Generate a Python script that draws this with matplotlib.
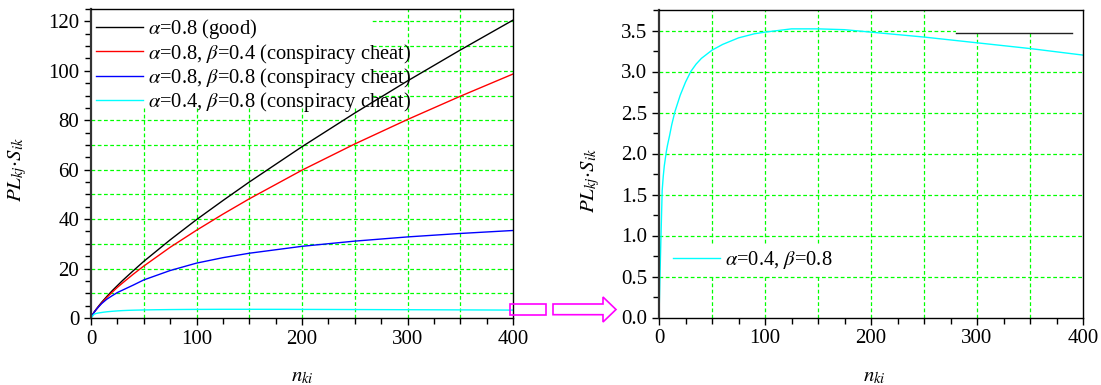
import matplotlib
matplotlib.use('Agg')
import matplotlib.pyplot as plt
from matplotlib.ticker import MultipleLocator, FormatStrFormatter
from matplotlib.patches import Polygon, Rectangle
from matplotlib.lines import Line2D

plt.rcParams['font.family'] = ['Liberation Serif', 'DejaVu Serif']
plt.rcParams['mathtext.fontset'] = 'stix'

# n_ki sample points
n_ki = [0, 1, 2, 3, 4, 5, 7, 10, 15, 20, 25, 30, 40, 50, 75, 100,
        125, 150, 200, 250, 300, 350, 400]

good_a08 = [0, 1.0, 1.7, 2.4, 3.0, 3.6, 4.7, 6.3, 8.7, 11.0, 13.1, 15.2, 19.1, 22.9,
            31.6, 39.8, 47.5, 55.0, 69.3, 82.9, 95.9, 108.4, 120.5]
cheat_a08_b04 = [0, 1.0, 1.7, 2.3, 2.9, 3.5, 4.5, 6.0, 8.3, 10.4, 12.4, 14.2, 17.7, 21.0,
                 28.6, 35.5, 42.0, 48.2, 59.8, 70.4, 80.3, 89.7, 98.7]
cheat_a08_b08 = [0, 1.0, 1.7, 2.3, 2.9, 3.4, 4.4, 5.8, 7.6, 9.0, 10.3, 11.3, 13.3, 15.4,
                 19.2, 22.2, 24.4, 26.2, 29.0, 31.1, 32.8, 34.2, 35.4]

# the lowest curve is read more densely from the zoomed panel
n_ki_zoom = [0, 0.5, 1, 1.5, 2, 2.5, 3, 4, 5, 6, 7, 8, 10, 12, 15, 20, 25, 30, 35,
             40, 45, 50, 60, 75, 90, 100, 125, 150, 175, 200, 250, 300, 350, 400]
cheat_a04_b08 = [0, 0.28, 0.55, 0.8, 1.05, 1.3, 1.55, 1.72, 1.85, 1.94, 2.03, 2.1,
                 2.22, 2.35, 2.51, 2.71, 2.87, 3.0, 3.09, 3.16, 3.21, 3.26, 3.33,
                 3.41, 3.46, 3.48, 3.52, 3.52, 3.51, 3.48, 3.42, 3.35, 3.28, 3.20]

labels = [r'$\alpha$=0.8 (good)',
          r'$\alpha$=0.8, $\beta$=0.4 (conspiracy cheat)',
          r'$\alpha$=0.8, $\beta$=0.8 (conspiracy cheat)',
          r'$\alpha$=0.4, $\beta$=0.8 (conspiracy cheat)']
colors = ['black', 'red', 'blue', 'cyan']
zoom_label = r'$\alpha$=0.4, $\beta$=0.8'

W, H = 1101, 385
fig = plt.figure(figsize=(W / 100, H / 100), dpi=100)
fig.patch.set_facecolor('white')

def px(x, y):
    return (x / W, 1 - y / H)

axL = fig.add_axes([91 / W, 1 - 318 / H, 422 / W, 309 / H])
axR = fig.add_axes([659 / W, 1 - 317.5 / H, 424 / W, 307.5 / H])

GRID = dict(color='#00ff00', linestyle=(0, (3, 2)), linewidth=0.9, zorder=0.5)

def style(ax):
    for s in ax.spines.values():
        s.set_linewidth(1.0)
        s.set_color('black')
    ax.spines['left'].set_linewidth(1.6)
    ax.spines['left'].set_color('#333333')
    ax.tick_params(which='both', direction='out', top=False, right=False,
                   labelsize=15, width=1.0)
    ax.tick_params(which='major', length=5)
    ax.tick_params(which='minor', length=4)
    ax.xaxis.set_major_locator(MultipleLocator(100))
    ax.xaxis.set_minor_locator(MultipleLocator(25))
    ax.set_xlim(0, 400)
    for x in range(50, 400, 50):
        ax.axvline(x, **GRID)

# left panel
series = [(n_ki, good_a08), (n_ki, cheat_a08_b04), (n_ki, cheat_a08_b08),
          (n_ki_zoom, cheat_a04_b08)]
for (xs, ys), c, lab in zip(series, colors, labels):
    axL.plot(xs, ys, color=c, lw=1.0, label=lab, zorder=2)
style(axL)
axL.set_ylim(0, 125)
axL.yaxis.set_major_locator(MultipleLocator(20))
axL.yaxis.set_minor_locator(MultipleLocator(5))
for y in range(10, 125, 10):
    axL.axhline(y, **GRID)
legL = axL.legend(loc='upper left', bbox_to_anchor=(-0.007, 1.0), frameon=False,
                  fontsize=14.8, handlelength=2.25, handletextpad=0.25,
                  labelspacing=0.02, borderpad=0.3, borderaxespad=0.1)
# the white box behind the legend is narrower than its text
axL.add_patch(Rectangle((0.0, 0.68), 0.666, 0.32, transform=axL.transAxes,
                        facecolor='white', edgecolor='none', zorder=1))

# right panel (zoom of the lowest curve)
axR.plot(n_ki_zoom, cheat_a04_b08, color='cyan', lw=1.0, label=zoom_label, zorder=2)
style(axR)
axR.set_ylim(0, 3.75)
axR.yaxis.set_major_locator(MultipleLocator(0.5))
axR.yaxis.set_minor_locator(MultipleLocator(0.25))
axR.yaxis.set_major_formatter(FormatStrFormatter('%.1f'))
for y in [0.5, 1.0, 1.5, 2.0, 2.5, 3.0, 3.5]:
    axR.axhline(y, **GRID)
legR = axR.legend(loc='center left', bbox_to_anchor=(0.0, 0.187), frameon=True,
                  fontsize=14.8, handlelength=2.25, handletextpad=0.25, borderpad=0.2,
                  fancybox=False)
legR.get_frame().set_edgecolor('none')
legR.get_frame().set_facecolor('white')
legR.get_frame().set_alpha(1)

# stray legend box at the top right of the zoomed panel
axR.add_patch(Rectangle((0.70, 0.925), 0.30, 0.075, transform=axR.transAxes,
                        facecolor='white', edgecolor='none', zorder=1))
axR.add_line(Line2D([0.70, 0.975], [0.925, 0.925], transform=axR.transAxes,
                    color='#222222', lw=1.0, zorder=3))

# axis labels
for xc in (302, 874):
    fig.text(*px(xc, 377), r'$n_{ki}$', fontsize=15, ha='center', va='center')
fig.text(*px(18, 169), r'$PL_{kj}{\cdot}S_{ik}$', fontsize=15, rotation=90,
         ha='center', va='center')
fig.text(*px(591, 180), r'$PL_{kj}{\cdot}S_{ik}$', fontsize=15, rotation=90,
         ha='center', va='center')

# magenta zoom marker and arrow
rect = [px(510, 304), px(546, 304), px(546, 314.7), px(510, 314.7)]
fig.patches.append(Polygon(rect, closed=True, fill=False, edgecolor='magenta',
                           lw=1.2, transform=fig.transFigure, figure=fig))
arrow = [px(553, 304), px(603, 304), px(603, 297), px(616, 309.5),
         px(603, 322), px(603, 314.7), px(553, 314.7)]
fig.patches.append(Polygon(arrow, closed=True, fill=False, edgecolor='magenta',
                           lw=1.2, transform=fig.transFigure, figure=fig))

fig.savefig('out.png', dpi=100)
